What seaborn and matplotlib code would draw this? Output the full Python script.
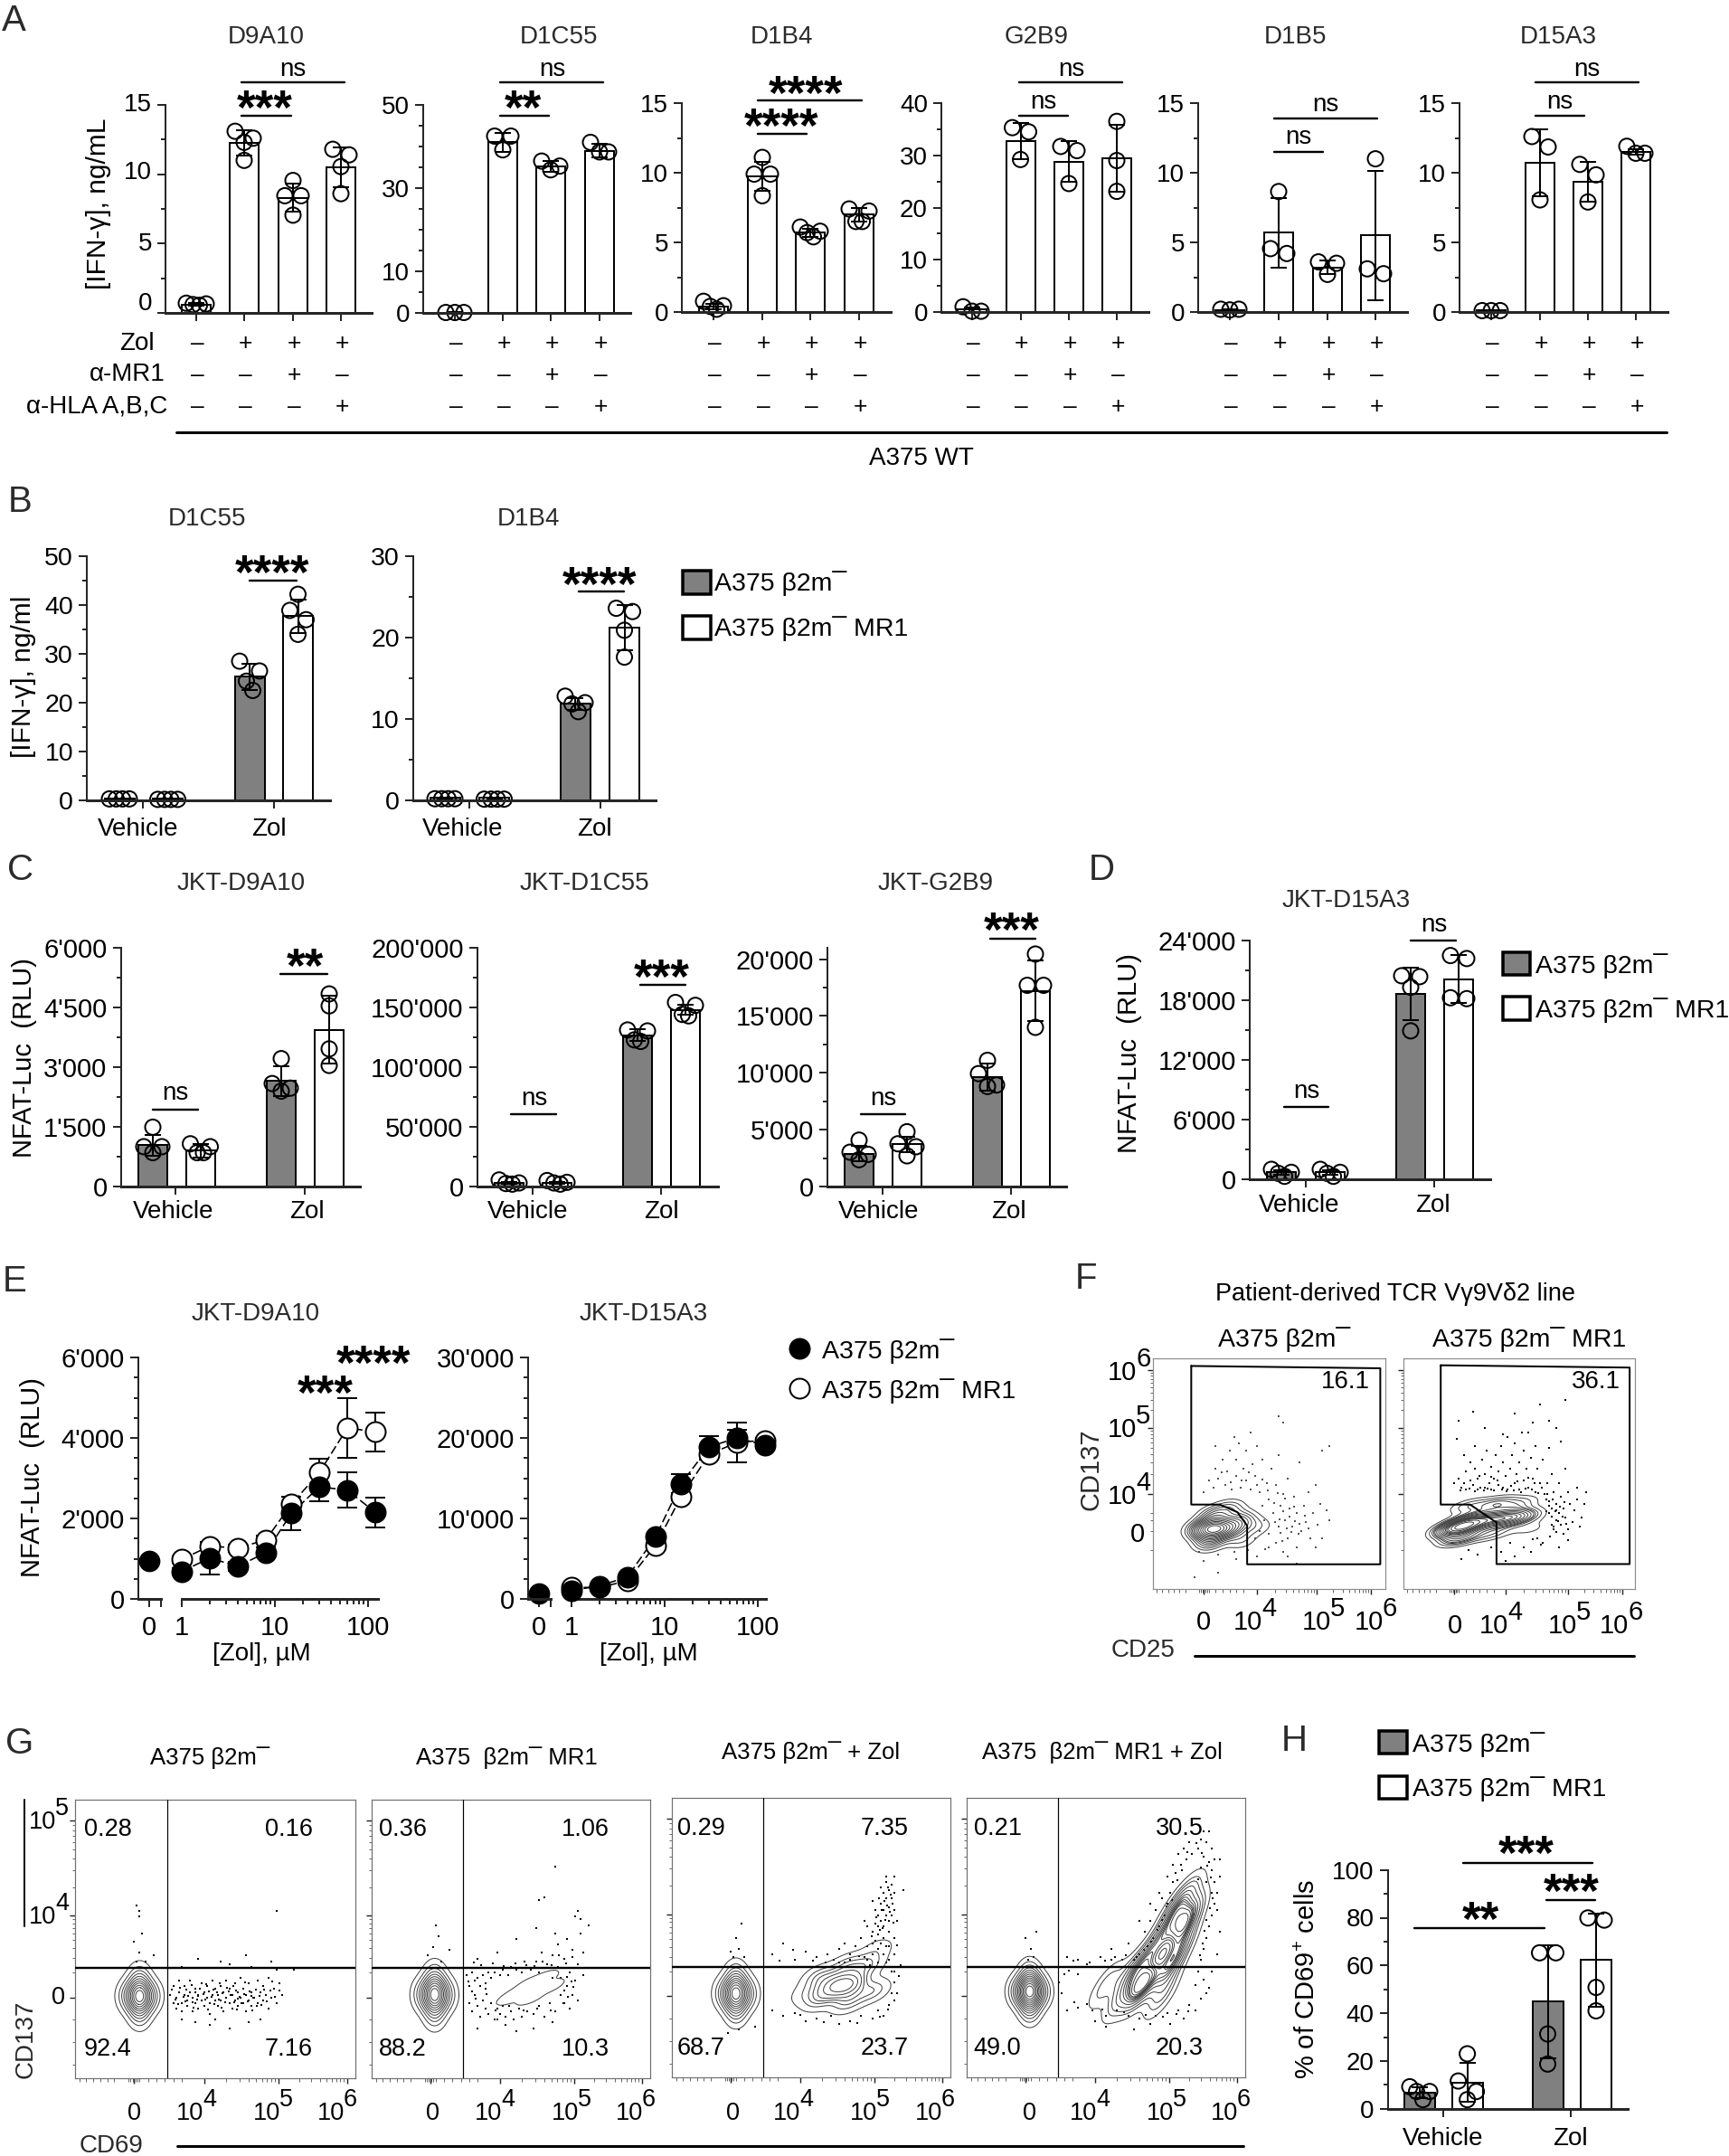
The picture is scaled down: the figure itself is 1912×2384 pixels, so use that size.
import numpy as np
import matplotlib
matplotlib.use("Agg")
import matplotlib.pyplot as plt
from matplotlib.lines import Line2D
from matplotlib.patches import Rectangle
from matplotlib.transforms import ScaledTranslation
import seaborn as sns

sns.set_theme(style="ticks")
plt.rcParams["font.family"] = ["Liberation Sans", "DejaVu Sans"]
plt.rcParams["mathtext.fontset"] = "custom"
plt.rcParams["mathtext.rm"] = "Liberation Sans"

W, H = 1912, 2384
GREY = "#808080"
TXT = "#2b2b2b"
PT = 72 / 100  # one pixel in points at dpi 100

# ---- data -----------------------------------------------------------------
# Panel A
A_titles = ["D9A10", "D1C55", "D1B4", "G2B9", "D1B5", "D15A3"]
A_ymax = [15, 50, 15, 40, 15, 15]
A_majors = [[0, 5, 10, 15], [0, 10, 30, 50], [0, 5, 10, 15], [0, 10, 20, 30, 40], [0, 5, 10, 15], [0, 5, 10, 15]]
A_minor = [2.5, 5, 2.5, 5, 2.5, 2.5]
A_means = [[0.6, 12.25, 8.3, 10.5], [0.1, 41, 35.3, 39], [0.4, 9.75, 5.7, 7.0],
           [0.5, 32.7, 28.8, 29.4], [0.15, 5.7, 3.2, 5.5], [0.1, 10.7, 9.35, 11.5]]
A_sds = [[0.1, 0.9, 1.0, 1.45], [0.02, 2.2, 1.3, 1.7], [0.2, 1.05, 0.3, 0.5],
         [0.45, 3.5, 3.9, 6.45], [0.03, 2.5, 0.5, 4.65], [0.02, 2.4, 1.45, 0.2]]
A_points = [
    [[0.55, 0.7, 0.6, 0.65], [13.1, 12.6, 12.3, 11.0], [9.55, 8.45, 8.45, 7.05], [11.8, 11.4, 10.55, 8.6]],
    [[0.1, 0.1, 0.1], [42.5, 42.5, 39.2], [36.5, 35.3, 34.4], [41, 38.7, 38.7]],
    [[0.77, 0.45, 0.4, 0.2], [11.1, 9.9, 9.9, 8.35], [6.1, 5.8, 5.7, 5.4], [7.4, 7.25, 6.5, 6.5]],
    [[1.0, 0.15, 0.15], [35.3, 34.5, 29.2], [31.7, 30.9, 24.6], [36.5, 29, 23.1]],
    [[0.2, 0.2, 0.15], [8.65, 4.55, 4.2], [3.6, 3.5, 2.7], [11, 3.1, 2.75]],
    [[0.1, 0.1, 0.1], [12.6, 11.85, 8.05], [10.6, 9.85, 7.9], [11.9, 11.4, 11.4]],
]
row_zol = ["–", "+", "+", "+"]
row_mr1 = ["–", "–", "+", "–"]
row_hla = ["–", "–", "–", "+"]

# Panel B
B_titles = ["D1C55", "D1B4"]
B_means = [[0.3, 0.3, 25.3, 37.7], [0.3, 0.3, 11.85, 21.2]]
B_sds = [[0.05, 0.05, 2.7, 3.5], [0.05, 0.05, 0.75, 2.8]]
B_points = [
    [[0.3, 0.3, 0.3, 0.3], [0.2, 0.2, 0.2, 0.2], [28.5, 26.5, 24.4, 22.5], [42.2, 38.9, 37, 34]],
    [[0.2, 0.2, 0.2, 0.2], [0.15, 0.15, 0.15, 0.15], [12.8, 12, 11.85, 10.9], [23.6, 23.2, 20.9, 17.6]],
]

# Panel C
C_titles = ["JKT-D9A10", "JKT-D1C55", "JKT-G2B9"]
C_means = [[1035, 907, 2645, 3930], [3200, 3300, 126500, 147800], [2900, 3700, 9590, 17200]]
C_sds = [[270, 170, 370, 850], [800, 800, 5000, 4200], [690, 660, 1190, 2650]]
C_points = [
    [[1490, 1000, 1000, 850], [1073, 1000, 850, 850], [3210, 2585, 2470, 2395], [4835, 4535, 3455, 3040]],
    [[5500, 3000, 2500, 2000], [5000, 3500, 3000, 2000], [131000, 130200, 122700, 121400], [154000, 151600, 144000, 142800]],
    [[4080, 3020, 2830, 2360], [4820, 3760, 3500, 2700], [11100, 9930, 8930, 8800], [20450, 17700, 17700, 14000]],
]

# Panel D
D_means = [700, 700, 18640, 20130]
D_sds = [250, 250, 2650, 2400]
D_points = [[1000, 700, 600, 300], [1000, 700, 600, 300], [20460, 20370, 19300, 14920], [22490, 22190, 18250, 18160]]

# Panel E
zol_doses = [1, 2, 4, 8, 15, 30, 60, 120]
E1_black_zero, E2_black_zero = 940, 676
E1_black = [683, 1014, 811, 1150, 2125, 2785, 2703, 2147]
E1_black_sd = [80, 400, 120, 120, 410, 355, 440, 365]
E1_white = [983, 1314, 1261, 1471, 2350, 3138, 4249, 4151]
E1_white_sd = [80, 100, 90, 100, 190, 350, 745, 480]
E2_black = [1051, 1615, 2741, 7736, 14307, 18889, 20015, 19076]
E2_black_sd = [120, 150, 200, 300, 1200, 1300, 1000, 300]
E2_white = [1427, 1427, 2253, 6684, 12692, 17950, 19451, 19714]
E2_white_sd = [120, 150, 200, 300, 400, 600, 2450, 300]

# Panel H
H_means = [6.7, 11, 44.8, 62.2]
H_sds = [2.2, 8.2, 23.6, 19.5]
H_points = [[9.2, 7.2, 7.2, 3.8], [23, 11.6, 7.2, 3.8], [65.3, 65.3, 31.3, 18.7], [79.9, 79, 50.8, 41]]

# Flow plots, in percent of each plot frame: x, y, weight of the contoured populations
F1_pop = [(26, 26, 8), (20, 26, 2), (24, 20, 2), (26, 32, 2), (33, 26, 3), (38, 30, 2), (33, 35, 1.5), (45, 27, 1), (38, 21, 1)]
F2_pop = [(25, 27, 8), (21, 26, 2), (24, 22, 3), (30, 30, 3), (38, 30, 4), (46, 31, 4), (52, 31, 2), (40, 37, 2), (50, 37, 1.5), (38, 24, 1.5), (28, 36, 1.5), (55, 26, .8)]
G1_pop = [(23, 29.5, 4), (18.5, 29.5, 1), (27.5, 29.5, 1), (23, 23, 1), (23, 36, 1)]
G2_pop = [(22.6, 30, 4), (18, 30, 1), (27, 30, 1), (22.6, 23, 1), (22.6, 36.5, 1)]
G2_pop2 = [(50, 29, 1), (57, 29, 1), (57, 34, 1), (64, 33, 1), (53, 31, 1), (62, 36, 1)]
G3_pop = [(23, 30, 4), (18.5, 30, 1), (27.5, 30, 1), (23, 23.5, 1), (23, 36.5, 1)]
G3_pop2 = [(63, 33, 6), (48, 30, 1), (53, 36, 2), (53, 28, 2), (63, 40, 2), (63, 27, 2), (70, 40, 2), (72, 31, 2), (74, 46, 1), (58, 33, 4)]
G4_pop = [(22.6, 30.7, 4), (18, 30.7, 1), (27, 30.7, 1), (22.6, 24, 1), (22.6, 37, 1)]
G4_pop2 = [(50, 33, 2), (55, 28, 2), (60, 38, 3), (63, 33, 6), (70, 29, 2), (72, 38, 3), (66, 44, 2), (76, 46, 3), (70, 50, 2), (78, 54, 3), (74, 58, 2), (79, 58, 3), (77, 63, 2), (80, 67, 1)]

# single events, in percent of the frame
F1_dots = [(22,42),(24,47),(26,44),(27,52),(27,62),(28,48),(30,56),(31,45),(32,51),(33,60),(34,43),(35,66),(36,49),(36,56),(37,63),(38,44),(39,52),(40,60),(40,47),(42,43),(42,68),(43,54),(44,49),(45,62),(46,42),(47,36),(47,56),(48,30),(49,46),(50,24),(50,39),(51,52),(52,33),(53,45),(53,20),(54,27),(54,58),(55,36),(56,41),(56,16),(57,30),(58,48),(58,22),(59,35),(60,27),(61,40),(62,18),(62,33),(63,55),(64,25),(65,36),(66,29),(67,42),(68,22),(69,33),(70,45),(70,18),(71,28),(72,37),(73,60),(73,22),(75,34),(76,62),(76,30),(54,75),(56,72),(20,16),(22,12),(28,15),(36,13),(41,17),(45,14),(62,11),(18,5),(28,7),(50,18),(44,22),(46,25),(58,14),(35,16),
           (52.3,37.4),(54.6,30.2),(56.2,33.7),(57.8,26.1),(55.1,24.3),(58.9,31.2),(61.4,29.5),(60.7,35.6),(63.2,28.3),(52.8,28.9),(59.6,24.8),(53.7,41.6),(49.4,42.7),(47.2,47.3),(44.8,45.2),(41.3,50.6),(38.1,47.1),(33.7,46.2),(29.8,50.4),(57.1,39.2),(65.4,31.7),(67.2,26.4),(62.6,23.9),(55.9,20.6),(48.3,17.4)]
F2_dots = [(22,46),(24,48),(25,44),(27,51),(27,43),(29,47),(29,55),(30,45),(31,52),(32,43),(33,49),(34,56),(35,44),(35,50),(36,60),(37,46),(38,53),(38,43),(39,48),(40,58),(41,45),(41,51),(42,62),(43,44),(43,55),(44,49),(45,66),(45,43),(46,52),(47,58),(48,46),(48,63),(49,50),(50,43),(50,55),(51,68),(52,47),(52,60),(53,52),(54,44),(55,57),(56,48),(57,62),(57,42),(58,52),(59,46),(60,56),(61,41),(62,46),(63,38),(64,50),(64,35),(65,42),(66,30),(66,37),(67,46),(67,33),(68,28),(68,40),(69,35),(69,24),(70,31),(71,42),(71,26),(72,37),(73,29),(74,34),(75,39),(76,27),(77,31),(62,41),(63,33),(65,27),(60,20),(55,16),(58,22),(52,18),(48,14),(46,20),(42,16),(38,18),(32,15),(28,17),(25,13),(21,20),(24,73),(30,77),(35,70),(43,67),(48,76),(59,80),(66,70),(70,82),(63,73),(54,68),(75,44),(79,42),(70,52),(63,61),(78,37),(68,64),(31,62),(26,58),(23,65),(56,72),(71,21),(67,18),(44,12),(65,26),(66,34),
           (24.6,42.8),(26.2,45.7),(28.4,43.6),(30.7,42.4),(31.9,47.8),(33.3,44.1),(34.6,42.9),(36.4,43.4),(37.7,48.6),(39.2,42.6),(40.6,47.2),(42.4,43.1),(44.7,42.5),(46.3,44.8),(47.6,42.7),(49.3,46.6),(50.8,41.8),(52.6,43.7),(53.8,48.4),(55.4,43.2),(56.7,45.8),(58.3,41.6),(59.9,43.9),(61.6,38.7),(62.8,36.2),(63.9,31.4),(64.6,38.9),(65.7,33.8),(66.8,29.3),(67.6,35.7),(68.7,31.2),(69.4,37.6),(70.3,28.4),(64.2,27.9),(61.7,33.6),(66.1,24.8),(63.4,22.6),(59.2,19.3),(55.7,21.4)]
G1_dots = [(34,30),(35,27),(35,33),(36,25),(36,29),(37,31),(37,35),(38,27),(38,24),(39,30),(39,33),(40,28),(40,26),(41,31),(41,35),(42,29),(42,24),(43,27),(43,32),(44,30),(44,25),(45,34),(45,28),(46,31),(46,26),(47,29),(47,33),(48,27),(48,23),(49,30),(49,35),(50,28),(50,32),(51,26),(51,30),(52,33),(52,28),(53,24),(53,31),(54,29),(54,35),(55,27),(55,32),(56,30),(56,25),(57,34),(57,28),(58,31),(58,26),(59,29),(59,36),(60,27),(60,32),(61,30),(61,24),(62,34),(62,28),(63,31),(63,26),(64,29),(65,35),(65,27),(66,31),(67,28),(67,33),(68,30),(69,25),(69,36),(70,29),(71,32),(72,27),(73,34),(74,30),(22,42),(23,45),(21,49),(24,52),(23,58),(22,62),(23,60),(25,42),(28,44),(38,40),(44,43),(52,42),(55,41),(61,44),(63,40),(70,42),(72,39),(72,60),(78,39),(48,19),(55,18),(62,20),(66,21),(50,21),(43,20),(38,21),
           (34.6,31.7),(35.8,28.4),(37.3,32.6),(38.7,29.1),(39.6,31.8),(40.4,29.6),(41.8,27.3),(42.9,30.7),(43.4,28.2),(44.6,32.3),(45.7,30.1),(46.4,28.4),(47.8,31.2),(48.6,29.3),(49.7,26.6),(50.6,30.8),(51.4,28.1),(52.7,30.4),(53.6,27.2),(54.3,32.4),(55.6,29.8),(56.7,27.4),(57.4,31.6),(58.7,29.3),(59.4,26.8),(60.3,30.1),(61.7,27.7),(62.4,31.2),(63.7,28.8),(64.5,31.9),(65.8,29.4),(66.6,26.2),(68.3,27.6),(69.7,31.6),(71.2,29.1),(72.8,31.4),
           (36.9,26.7),(39.2,27.6),(41.6,33.4),(43.8,29.6),(46.9,33.7),(49.2,31.7),(51.7,34.2),(54.8,31.1),(56.3,33.2),(58.2,28.7),(60.8,34.3),(62.9,29.7),(64.8,26.1),(67.4,31.8),(70.4,34.6),(42.2,25.4),(47.3,24.8),(52.2,25.2),(57.7,24.6),(63.3,24.4)]
G2_dots = [(34,37),(35,33),(35,27),(36,38),(36,24),(37,35),(37,30),(38,26),(38,36),(39,22),(39,33),(40,28),(40,37),(41,25),(41,34),(42,38),(42,23),(43,27),(43,36),(44,21),(44,38),(45,25),(46,37),(46,23),(47,39),(47,26),(48,22),(49,37),(50,24),(50,40),(51,21),(52,39),(53,25),(54,38),(54,22),(55,42),(56,24),(57,39),(58,23),(59,42),(60,26),(60,38),(61,45),(62,22),(63,41),(64,27),(65,44),(65,36),(66,24),(67,40),(67,48),(68,30),(68,36),(69,27),(69,43),(70,33),(70,50),(71,38),(71,25),(72,30),(72,46),(73,35),(74,41),(74,28),(75,52),(76,37),(76,45),(78,55),(73,58),(75,57),(52,50),(45,45),(59,54),(66,52),(38,43),(23,55),(24,51),(22,47),(20,44),(25,42),(28,46),(66,76),(60,64),(62,65),(74,60),(45,21),(58,18),(48,19),(38,18),(52,17),(65,20),
           (69.3,31.4),(70.6,29.2),(71.7,34.6),(70.2,36.4),(68.7,26.8),(72.4,32.8),(69.8,41.2),(72.1,43.6),(67.3,44.2),(64.6,40.7),(61.4,41.8),(58.6,40.3),(55.4,40.6),(51.7,41.2),(47.4,40.3),(43.6,41.1),(39.3,40.6),(36.8,41.7),(34.6,34.8),(36.2,31.2),(41.2,30.3),(44.6,24.2),(49.3,26.1),(54.7,24.2),(59.3,25.1),(64.4,24.3),(37.4,28.7),(40.8,32.1)]
G3_dots = [(70,42),(72,44),(74,46),(75,48),(76,50),(77,47),(78,52),(74,51),(73,49),(76,54),(78,56),(75,56),(77,58),(79,58),(74,58),(76,60),(78,61),(80,60),(73,60),(75,62),(77,64),(79,64),(76,66),(78,67),(80,66),(79,69),(77,70),(80,72),(75,68),(72,63),(70,54),(68,50),(66,47),(64,44),(62,48),(60,46),(58,42),(56,44),(52,43),(48,45),(44,42),(40,48),(36,44),(23,50),(24,46),(22,43),(25,55),(21,45),(26,43),(82,40),(80,44),(80,50),(78,42),(79,38),(80,34),(79,30),(78,26),(76,22),(74,24),(72,21),(68,22),(64,20),(60,19),(57,22),(52,21),(48,20),(44,23),(40,22),(36,24),(20,16),(24,17),(30,18),(73,55),(72,48),(74,41),(77,41),(71,40),(80,38),(81,30),(69,43),(70,47),(76,44),(60,41),(62,41),(78,47),(72,52),(74,54),(81,56),(69,56),(77,72),(83,67),
           (74.6,52.7),(76.7,56.4),(78.4,59.3),(75.3,59.8),(77.4,61.6),(79.2,62.2),(74.3,64.1),(76.2,63.2),(78.7,65.4),(77.6,67.8),(75.7,53.3),(73.4,57.2),(79.6,55.3),(71.6,50.6),(80.7,47.4),(81.6,36.2),(79.8,27.4),(77.7,24.2),(74.8,21.8),(66.4,19.3),(54.6,19.8),(46.2,22.2),(38.7,41.6),(43.4,45.6),(50.6,41.7),(55.2,41.2),(63.8,42.1),(67.3,43.4)]
G4_dots = [(62,44),(65,47),(67,50),(69,54),(71,58),(72,62),(73,66),(74,70),(75,73),(77,76),(79,78),(81,80),(83,82),(85,79),(87,77),(88,74),(89,70),(90,66),(89,62),(88,58),(87,54),(86,50),(85,46),(84,42),(83,38),(85,35),(82,33),(84,28),(80,26),(76,24),(72,23),(68,22),(62,21),(58,22),(54,24),(50,22),(45,24),(40,25),(36,24),(60,42),(56,42),(52,42),(48,43),(44,41),(40,42),(36,43),(23,46),(21,50),(24,43),(22,42),(25,52),(70,64),(68,60),(66,56),(64,52),(76,80),(84,85),(86,84),(88,82),(87,88),(80,84),(91,78),(90,60),(91,72),(85,88),(78,82),(74,76),(72,72),(69,66),(66,62),(86,70),(88,66),(89,78),(84,75),(83,71),(62,56),(58,48),(52,46),(34,30),(33,34),(40,37),(35,37),(82,24),(78,21),(73,19),(66,19),(60,17),(50,18),(46,20),(91,52),(90,44),(88,38),(87,32),(86,30),
           (86.4,75.7),(87.6,71.4),(88.4,64.2),(87.2,60.6),(86.2,56.4),(85.3,52.3),(84.6,47.8),(83.7,43.6),(79.2,80.6),(82.6,83.8),(84.3,80.2),(77.3,74.2),(75.6,70.6),(73.8,63.4),(71.7,61.2),(70.2,56.3),(68.4,52.7),(66.3,48.4),(63.6,45.6),(61.2,43.2),(57.3,43.6),(53.2,43.1),(49.6,41.8),(43.2,40.6),(38.4,41.8),(36.7,38.2),(38.6,26.7),(43.3,26.2),(48.7,24.3),(56.4,23.2),(64.3,22.4),(70.4,21.8),(75.2,22.6),(79.4,23.7)]

# quadrant percentages in panel G: top-left, top-right, bottom-left, bottom-right
G_titles = ["A375 β2m¯", "A375  β2m¯ MR1", "A375 β2m¯ + Zol", "A375  β2m¯ MR1 + Zol"]
G_quads = [["0.28", "0.16", "92.4", "7.16"], ["0.36", "1.06", "88.2", "10.3"],
           ["0.29", "7.35", "68.7", "23.7"], ["0.21", "30.5", "49.0", "20.3"]]

LEG1 = "A375 β2m¯"
LEG2 = "A375 β2m¯ MR1"

# ---- helpers --------------------------------------------------------------
fig = plt.figure(figsize=(W / 100, H / 100), dpi=100, facecolor="white")


def axes_px(left, right, top, bottom):
    return fig.add_axes([left / W, 1 - bottom / H, (right - left) / W, (bottom - top) / H])


def put(x, y, s, size=20, ha="center", va="center", color="black", **kw):
    # centred text sits a little high in matplotlib
    if va == "center":
        if kw.get("rotation") == 90:
            x += 4
        else:
            y += 2
    return fig.text(x / W, 1 - y / H, s, fontsize=size, ha=ha, va=va, color=color, **kw)


def hline(x0, x1, y, lw=2.4):
    fig.add_artist(Line2D([x0 / W, x1 / W], [1 - y / H, 1 - y / H], color="black", lw=lw * PT))


def stars(x, y, n):
    # bold asterisks sit high on the line, so place them by their baseline
    put(x, y + 26, "*" * n, size=38, va="baseline", fontweight="bold")


def label_ns(x, y):
    put(x, y, "ns", size=20)


def power(x, y, exp, size=20):
    # exponents in the flow axes are nearly as big as the base
    put(x, y, "10", size=size, ha="right")
    put(x - 1, y - 15, exp, size=size, ha="left")


def spread(values, px_per_unit):
    # Prism-like layout: close values are pushed apart sideways
    order = np.argsort(values)[::-1]
    offsets = np.zeros(len(values))
    patterns = {1: [0], 2: [-9, 9], 3: [-10, 10, 0], 4: [-11, 11, -3.5, 3.5]}
    group = [order[0]]
    runs = []
    for i in order[1:]:
        if (values[group[-1]] - values[i]) * px_per_unit < 13:
            group.append(i)
        else:
            runs.append(group)
            group = [i]
    runs.append(group)
    for run in runs:
        for i, off in zip(run, patterns[len(run)]):
            offsets[i] = off
    return offsets


def bar_panel(box, ymax, majors, minor, xpos, means, sds, points, fills, ticks,
              size=20, fmt=str, bar_w=32):
    left, right, top, bottom = box
    ax = axes_px(left, right, top, bottom)
    ppu = (bottom - top) / ymax
    for x, m, sd, pts, c in zip(xpos, means, sds, points, fills):
        sns.barplot(x=[x], y=[m], native_scale=True, width=bar_w, color=c, saturation=1,
                    edgecolor="black", linewidth=2 * PT, errorbar=None, ax=ax, zorder=2)
        ax.errorbar([x], [m], yerr=[sd], color="black", elinewidth=2 * PT, capsize=9 * PT,
                    capthick=2 * PT, clip_on=False, zorder=3)
        sns.scatterplot(x=x + spread(pts, ppu), y=pts, s=(17 * PT) ** 2, color="none", edgecolor="black",
                        linewidth=2 * PT, clip_on=False, ax=ax, zorder=4)
    ax.set_xlim(left, right)
    ax.set_ylim(0, ymax)
    ax.set(xlabel=None, ylabel=None)
    ax.patch.set_alpha(0)
    style_axis(ax, majors, minor, ymax, size, fmt)
    ax.set_xticks(ticks, [""] * len(ticks))
    return ax


def style_axis(ax, majors, minor, ymax, size, fmt):
    sns.despine(ax=ax)
    ax.spines["left"].set_linewidth(2 * PT)
    ax.spines["bottom"].set_linewidth(3 * PT)
    ax.spines["bottom"].set_zorder(6)
    ax.set_yticks(majors, [fmt(v) for v in majors])
    ax.set_yticks(np.arange(0, ymax + 1e-6, minor), minor=True)
    ax.tick_params(axis="y", which="major", length=9 * PT, width=2 * PT, labelsize=size, pad=6 * PT, labelcolor="black")
    ax.tick_params(axis="y", which="minor", length=5 * PT, width=2 * PT)
    ax.tick_params(axis="x", which="major", length=9 * PT, width=2 * PT, labelsize=size, pad=9 * PT, labelcolor="black")


def swiss(v):
    return f"{v:,}".replace(",", "'")


def legend_boxes(x0, x1, rows, text_x):
    for (y0, y1, c, label, ty) in rows:
        fig.add_artist(Rectangle((x0 / W, 1 - y1 / H), (x1 - x0) / W, (y1 - y0) / H, facecolor=c,
                                 edgecolor="black", lw=3.5 * PT, transform=fig.transFigure))
        put(text_x, ty, label, size=20.5, ha="left")


def log_between(a, b):
    # tick positions of a decade drawn from a to b
    return [a + (b - a) * np.log10(k) for k in range(2, 10)]


def flow_panel(box, pops, dots, xzero, ydecades, xdecades, frame="#8c8c8c", dot_color="black", dot_size=2.5):
    ax = axes_px(*box)
    for (pop, levels, adjust) in pops:
        px, py, pw = np.array(pop).T
        sns.kdeplot(x=px, y=py, weights=pw, levels=levels, thresh=0.06, bw_adjust=adjust, color="#3c3c3c",
                    linewidths=0.7, gridsize=150, ax=ax)
    dx, dy = np.array(dots).T
    sns.scatterplot(x=dx, y=dy, s=dot_size, color=dot_color, marker="s", linewidth=0, ax=ax)
    ax.set_xlim(0, 100)
    ax.set_ylim(0, 100)
    ax.set(xlabel=None, ylabel=None)
    for sp in ax.spines.values():
        sp.set_color(frame)
        sp.set_linewidth(1.2 * PT)
    xmin = sum([log_between(a, b) for a, b in zip(xdecades[:-1], xdecades[1:])], [])
    xmin += [xzero + k * 1.0 for k in (-2, -1.2, -.5, .5, 1.2, 2)]
    xmin += [1.5, 4, 6.5, 9, 11.5, 14, xzero + 5, xzero + 8, xzero + 11, xzero + 14, xzero + 17]
    ymin = sum([log_between(a, b) for a, b in zip(ydecades[:-1], ydecades[1:])], [])
    ymin += [ydecades[0] - 8, ydecades[0] - 16, ydecades[0] - 24, xzero + 8]
    ax.set_xticks([xzero] + list(xdecades), [""] * (len(xdecades) + 1))
    ax.set_xticks(xmin, minor=True)
    ax.set_yticks(list(ydecades), [""] * len(ydecades))
    ax.set_yticks([v for v in ymin if 0 < v < 100], minor=True)
    ax.tick_params(axis="both", which="major", length=6 * PT, width=1.4 * PT, color="#222222")
    ax.tick_params(axis="both", which="minor", length=3.5 * PT, width=0.8 * PT, color="#444444")
    return ax


# ---- panel A --------------------------------------------------------------
A_boxes = [(183, 411, 116, 346), (468, 697, 116, 346), (754, 985, 114, 345),
           (1041, 1270, 114, 345), (1325, 1556, 114, 345), (1614, 1844, 114, 345)]
A_bars = [[217, 270, 324, 377], [503, 556, 609, 663], [789, 843, 896, 950],
          [1075, 1128.5, 1182, 1235], [1360, 1414, 1468, 1521], [1649, 1703, 1756, 1809]]
A_title_x = [294, 618, 865, 1146, 1433, 1723]
for i in range(6):
    ax = bar_panel(A_boxes[i], A_ymax[i], A_majors[i], A_minor[i], A_bars[i], A_means[i], A_sds[i],
                   A_points[i], ["white"] * 4, A_bars[i])
    if i == 0:
        # the labels of the first axis sit above their ticks in the reference
        for lab, dy in zip(ax.get_yticklabels(), [13, 2, 5, 3]):
            lab.set_transform(lab.get_transform() + ScaledTranslation(0, dy / 100, fig.dpi_scale_trans))
    put(A_title_x[i], 39, A_titles[i], color=TXT)
    for j in range(4):
        put(A_bars[i][j] + 1, 378, row_zol[j], size=19)
        put(A_bars[i][j] + 1, 413, row_mr1[j], size=19)
        put(A_bars[i][j] + 1, 448, row_hla[j], size=19)
put(171, 378, "Zol", ha="right")
put(183, 412, "α-MR1", ha="right")
put(185, 447, "α-HLA A,B,C", ha="right")
put(105, 225, "[IFN-γ], ng/mL", rotation=90, size=21.5)
hline(195, 1843, 478, 3)
put(1019, 505, "A375 WT")
put(15, 21, "A", size=29, color=TXT)
# significance brackets
label_ns(324, 75); hline(267, 381, 90.5); stars(293, 111, 3); hline(267, 321.5, 128)
label_ns(611, 75); hline(553, 667, 90.5); stars(578, 111, 2); hline(553, 607, 128)
stars(891, 95, 4); hline(838, 953, 110.5); stars(864, 131, 4); hline(838, 892, 148)
label_ns(1185, 75); hline(1127, 1241, 90.5); label_ns(1154, 111); hline(1127, 1181, 128)
label_ns(1466, 114); hline(1409, 1523, 131); label_ns(1436, 150); hline(1409, 1463, 168)
label_ns(1755, 75); hline(1698, 1812, 90.5); label_ns(1725, 111); hline(1698, 1752, 128)

# ---- panel B --------------------------------------------------------------
four_fills = [GREY, "white", GREY, "white"]
bar_panel((96, 365, 615, 885), 50, [0, 10, 20, 30, 40, 50], 5, [132, 185.5, 276, 329.5], B_means[0], B_sds[0],
          B_points[0], four_fills, [158, 303], size=20.5, bar_w=33)
bar_panel((457, 725, 615, 885), 30, [0, 10, 20, 30], 5, [492, 546.5, 636, 690.5], B_means[1], B_sds[1],
          B_points[1], four_fills, [519, 664], size=20.5, bar_w=33)
put(229, 572, B_titles[0], color=TXT)
put(584, 572, B_titles[1], color=TXT)
put(153, 915, "Vehicle"); put(297, 915, "Zol")
put(512, 915, "Vehicle"); put(657, 915, "Zol")
put(22, 748, "[IFN-γ], ng/ml", rotation=90, size=21.5)
stars(301, 625, 4); hline(276, 328, 642)
stars(663, 638, 4); hline(640, 690, 654)
legend_boxes(755, 786, [(631, 657, GREY, LEG1, 643), (681, 707, "white", LEG2, 693)], 790)
put(22, 553, "B", size=29, color=TXT)

# ---- panel C --------------------------------------------------------------
bar_panel((133.5, 398, 1047.7, 1312), 6000, [0, 1500, 3000, 4500, 6000], 750, [169, 221.5, 311, 364], C_means[0],
          C_sds[0], C_points[0], four_fills, [194.4, 337], size=21, fmt=swiss)
bar_panel((527.5, 794, 1047.7, 1312), 200000, [0, 50000, 100000, 150000, 200000], 25000, [563, 616, 705, 758],
          C_means[1], C_sds[1], C_points[1], four_fills, [589, 731], size=21, fmt=swiss)
bar_panel((915, 1179, 1048, 1312), 21000, [0, 5000, 10000, 15000, 20000], 2500, [950, 1003, 1092, 1145],
          C_means[2], C_sds[2], C_points[2], four_fills, [976, 1118], size=21, fmt=swiss)
put(267, 975, C_titles[0], color=TXT)
put(646, 975, C_titles[1], color=TXT)
put(1034.5, 975, C_titles[2], color=TXT)
for xv, xz in [(192, 339), (584, 731), (972, 1115)]:
    put(xv, 1338, "Vehicle"); put(xz, 1338, "Zol")
put(23, 1170, "NFAT-Luc  (RLU)", rotation=90, size=21)
label_ns(194, 1207); hline(169, 219, 1227); stars(337, 1060, 2); hline(310, 362, 1077)
label_ns(590.6, 1213); hline(565, 615, 1232); stars(732, 1072, 3); hline(708, 758, 1089)
label_ns(976.5, 1213); hline(952, 1001, 1232); stars(1119, 1020, 3); hline(1095, 1145, 1038)
put(23, 960, "C", size=29, color=TXT)

# ---- panel D --------------------------------------------------------------
bar_panel((1382, 1648, 1040, 1304), 24000, [0, 6000, 12000, 18000, 24000], 3000, [1417, 1471, 1560, 1613],
          D_means, D_sds, D_points, four_fills, [1444, 1586], size=21, fmt=swiss)
put(1489, 994, "JKT-D15A3", color=TXT)
put(1437, 1331, "Vehicle"); put(1584, 1331, "Zol")
put(1245, 1165, "NFAT-Luc  (RLU)", rotation=90, size=21)
label_ns(1445, 1205); hline(1420, 1469, 1224)
label_ns(1586, 1021); hline(1560, 1610, 1040)
legend_boxes(1662, 1692, [(1053, 1078, GREY, LEG1, 1066), (1102, 1128, "white", LEG2, 1115)], 1698)
put(1218, 960, "D", size=29, color=TXT)

# ---- panel E --------------------------------------------------------------
MARK = (22 * PT) ** 2


def dose_panel(left, zero_right, log_left, log_right, ymax, majors, black_zero, black, black_sd, white, white_sd):
    top, bottom = 1501, 1768
    ax0 = axes_px(left, zero_right, top, bottom)
    sns.scatterplot(x=[0], y=[black_zero], s=MARK, color="black", edgecolor="black", clip_on=False, ax=ax0, zorder=5)
    ax0.set_xlim(-1, 1)
    ax0.set_ylim(0, ymax)
    ax0.set(xlabel=None, ylabel=None)
    style_axis(ax0, majors, ymax / 12, ymax, 21, swiss)
    ax0.set_xticks([0, 1], ["0", ""])
    ax = axes_px(log_left, log_right, top, bottom)
    ax.patch.set_alpha(0)
    for vals, sd, c in [(white, white_sd, "white"), (black, black_sd, "black")]:
        sns.lineplot(x=zol_doses, y=vals, color="black", lw=1.6 * PT, linestyle=(0, (6, 2.5)), errorbar=None, ax=ax, zorder=2)
        ax.errorbar(zol_doses, vals, yerr=sd, fmt="none", ecolor="black", elinewidth=2 * PT, capsize=11 * PT,
                    capthick=2 * PT, clip_on=False, zorder=3)
        sns.scatterplot(x=zol_doses, y=vals, s=MARK, color=c, edgecolor="black", linewidth=2 * PT, clip_on=False,
                        ax=ax, zorder=4)
    ax.set_xscale("log")
    ax.set_xlim(1, 10 ** ((log_right - log_left) / 103))
    ax.set_ylim(0, ymax)
    ax.set(xlabel=None, ylabel=None)
    sns.despine(ax=ax, left=True)
    ax.spines["bottom"].set_linewidth(3 * PT)
    ax.set_yticks([])
    ax.set_xticks([1, 10, 100], ["1", "10", "100"])
    ax.tick_params(axis="x", which="major", length=9 * PT, width=2 * PT, labelsize=21, pad=9 * PT, labelcolor="black")
    ax.tick_params(axis="x", which="minor", length=5.5 * PT, width=2 * PT, labelbottom=False)


dose_panel(152.6, 178, 201, 418, 6000, [0, 2000, 4000, 6000], E1_black_zero, E1_black, E1_black_sd, E1_white, E1_white_sd)
dose_panel(584, 608.6, 632, 847, 30000, [0, 10000, 20000, 30000], E2_black_zero, E2_black, E2_black_sd, E2_white, E2_white_sd)
put(283, 1451, "JKT-D9A10", color=TXT)
put(712, 1451, "JKT-D15A3", color=TXT)
put(289, 1827, "[Zol], µM"); put(717, 1827, "[Zol], µM")
put(32, 1634, "NFAT-Luc  (RLU)", rotation=90, size=21)
stars(360, 1532, 3); stars(412.6, 1499, 4)
for y, fc, label in [(1491, "black", LEG1), (1535, "white", LEG2)]:
    fig.add_artist(Line2D([884 / W], [1 - y / H], marker="o", ms=22 * PT, mfc=fc, mec="black", mew=2 * PT, ls="none"))
    put(909, y + 1, label, size=20.5, ha="left")
put(16, 1415, "E", size=29, color=TXT)

# ---- panel F --------------------------------------------------------------
F_y = (23.5, 41, 70, 94.8)
F_gates = [[(16.5, 96.7), (98, 95.7), (98, 10.7), (40.6, 10.7), (40.6, 27.5), (36.4, 33.3), (28.8, 36.6), (16.5, 36.6), (16.5, 96.7)],
           [(16.1, 97), (97.7, 96), (97.7, 10.8), (40.2, 10.8), (40.2, 28.8), (28.8, 36.6), (16.1, 36.6), (16.1, 97)]]
ax = flow_panel((1275, 1531.5, 1502, 1757), [(F1_pop, 15, .9)], F1_dots, 22, F_y[1:], (45, 70.6, 94), dot_color="#555555")
ax.plot(*np.array(F_gates[0]).T, color="black", lw=2 * PT)
ax = flow_panel((1552, 1808, 1502, 1757), [(F2_pop, 16, .8)], F2_dots, 22, F_y[1:], (44, 71, 94.5))
ax.plot(*np.array(F_gates[1]).T, color="black", lw=2 * PT)
put(1488, 1526, "16.1"); put(1765, 1526, "36.1")
put(1543, 1429, "Patient-derived TCR Vγ9Vδ2 line", size=19.5)
put(1420, 1479, LEG1, size=20.5); put(1691, 1479, LEG2, size=20.5)
for yt, e in [(1516, "6"), (1579, "5"), (1653, "4")]:
    power(1257, yt, e, size=21)
put(1258, 1695, "0", size=21)
put(1202, 1625, "CD137", rotation=90, size=21, color=TXT)
for xz, xs, yt in [(1331, (1396, 1472, 1530), 1792), (1609, (1668, 1744, 1801), 1796)]:
    put(xz, yt, "0", size=21)
    for x, e in zip(xs, "456"):
        power(x, yt, e, size=21)
put(1264, 1823, "CD25", color=TXT)
hline(1321, 1807, 1831, 3)
put(1201, 1412, "F", size=29, color=TXT)

# ---- panel G --------------------------------------------------------------
G_boxes = [(83, 393, 1990, 2298), (411, 719, 1990, 2298), (743, 1051, 1988, 2297), (1069, 1377, 1988, 2297)]
G_pops = [[(G1_pop, 12, 1.2)], [(G2_pop, 12, 1.2), (G2_pop2, 2, .7)], [(G3_pop, 12, 1.2), (G3_pop2, 8, .8)],
          [(G4_pop, 14, 1.2), (G4_pop2, 13, .75)]]
G_dots = [G1_dots, G2_dots, G3_dots, G4_dots]
G_title_pos = [(232, 1942), (560, 1942), (897, 1936), (1219, 1936)]
G_text_x = [(119, 319), (445, 647), (775, 978), (1103, 1304)]
G_text_y = [(2021, 2264), (2021, 2264), (2020, 2263), (2020, 2263)]
G_xlabels = [(149, 219, 304, 375), (479, 549, 634, 705), (810, 879, 964, 1036), (1138, 1207, 1292, 1363)]
for i in range(4):
    ax = flow_panel(G_boxes[i], G_pops[i], G_dots[i], 21, (29, 58.4, 92.4), (46, 72.6, 97), frame="#707070", dot_size=3)
    ax.axhline(39.5, color="black", lw=2.4 * PT, zorder=6)
    ax.axvline(32.8, color="black", lw=1.2 * PT, zorder=6)
    put(*G_title_pos[i], G_titles[i], size=18.5)
    q = G_quads[i]
    put(G_text_x[i][0], G_text_y[i][0], q[0], size=19.5); put(G_text_x[i][1], G_text_y[i][0], q[1], size=19.5)
    put(G_text_x[i][0], G_text_y[i][1], q[2], size=19.5); put(G_text_x[i][1], G_text_y[i][1], q[3], size=19.5)
    xs = G_xlabels[i]
    put(xs[0], 2335, "0", size=19.5)
    for x, e in zip(xs[1:], "456"):
        power(x + 6, 2335, e, size=19.5)
power(62, 2013, "5", size=19.5)
power(62, 2118, "4", size=19.5)
put(65, 2207, "0", size=19.5)
fig.add_artist(Line2D([27 / W, 27 / W], [1 - 1990 / H, 1 - 2130 / H], color="black", lw=2 * PT))
put(25, 2255, "CD137", rotation=90, size=20, color=TXT)
put(123, 2371, "CD69", color=TXT)
hline(196, 1375, 2373, 3)
put(22, 1926, "G", size=29, color=TXT)

# ---- panel H --------------------------------------------------------------
bar_panel((1534.7, 1800, 2067.7, 2331.7), 100, [0, 20, 40, 60, 80, 100], 10, [1570, 1622.6, 1711.5, 1765],
          H_means, H_sds, H_points, four_fills, [1596, 1737], size=20, bar_w=34)
put(1595.5, 2363, "Vehicle"); put(1736, 2363, "Zol")
put(1442, 2188, "% of CD69$^{+}$ cells", rotation=90, size=21)
stars(1688, 2040.7, 3); hline(1617.5, 1761, 2060)
stars(1738, 2083, 3); hline(1710, 1763.5, 2100.7)
stars(1637, 2114, 2); hline(1564, 1707.5, 2132)
legend_boxes(1525, 1556, [(1914, 1939, GREY, LEG1, 1926.7), (1964, 1989, "white", LEG2, 1976)], 1561.5)
put(1431, 1923, "H", size=29, color=TXT)

fig.savefig("out.png", dpi=100)
